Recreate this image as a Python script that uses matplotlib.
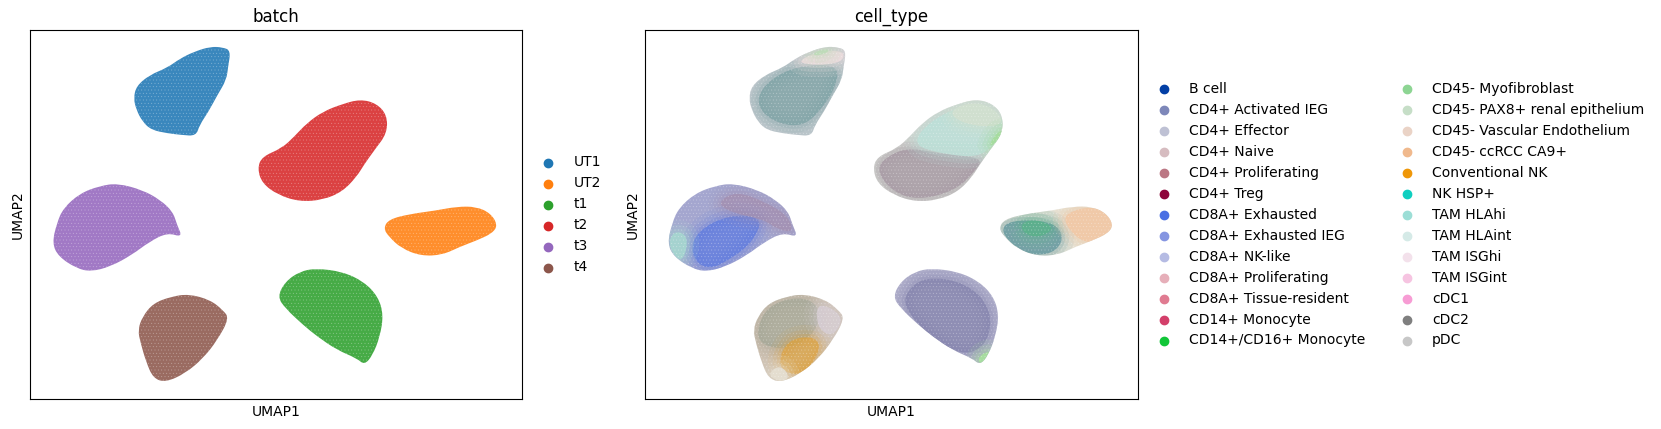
import matplotlib
matplotlib.use("Agg")
import matplotlib.pyplot as plt
from matplotlib.path import Path
from matplotlib.patches import PathPatch

batch_labels = ["UT1", "UT2", "t1", "t2", "t3", "t4"]
batch_colors = ["#1f77b4", "#ff7f0e", "#2ca02c", "#d62728", "#9467bd", "#8c564b"]

cell_types = ["B cell", "CD4+ Activated IEG", "CD4+ Effector", "CD4+ Naive", "CD4+ Proliferating",
              "CD4+ Treg", "CD8A+ Exhausted", "CD8A+ Exhausted IEG", "CD8A+ NK-like",
              "CD8A+ Proliferating", "CD8A+ Tissue-resident", "CD14+ Monocyte", "CD14+/CD16+ Monocyte",
              "CD45- Myofibroblast", "CD45- PAX8+ renal epithelium", "CD45- Vascular Endothelium",
              "CD45- ccRCC CA9+", "Conventional NK", "NK HSP+", "TAM HLAhi", "TAM HLAint", "TAM ISGhi",
              "TAM ISGint", "cDC1", "cDC2", "pDC"]
cell_colors = ["#023fa5", "#7d87b9", "#bec1d4", "#d6bcc0", "#bb7784", "#8e063b", "#4a6fe3", "#8595e1",
               "#b5bbe3", "#e6afb9", "#e07b91", "#d33f6a", "#11c638", "#8dd593", "#c6dec7", "#ead3c6",
               "#f0b98d", "#ef9708", "#0fcfc0", "#9cded6", "#d5eae7", "#f3e1eb", "#f6c4e1", "#f79cd4",
               "#7f7f7f", "#c7c7c7"]

# Cluster outlines (x, y in embedding units)
UT1 = [(290,903),(298,940),(335,973),(385,995),(420,1022),(460,1043),(505,1058),(540,1056),(562,1046),
       (555,998),(550,958),(525,913),(500,863),(475,823),(465,790),(425,793),(385,798),(340,808),(315,833),(298,868)]
T2 = [(637,693),(650,728),(705,753),(740,788),(775,828),(820,863),(875,886),(925,900),(970,888),(1000,853),
      (1000,798),(965,748),(935,703),(915,668),(875,623),(820,598),(755,593),(695,613),(650,648)]
T3 = [(62,468),(75,528),(93,573),(140,618),(195,640),(245,648),(315,628),(365,598),(400,563),(412,523),
      (427,486),(385,500),(335,473),(285,433),(225,398),(170,383),(130,393),(80,428)]
UT2 = [(990,513),(1005,540),(1065,556),(1135,566),(1195,578),(1250,578),(1290,558),(1310,523),(1295,498),
       (1250,476),(1205,458),(1155,433),(1095,430),(1040,453),(1005,488)]
T1 = [(693,308),(715,353),(755,383),(800,393),(875,383),(935,353),(975,308),(990,253),(980,188),(960,133),
      (937,103),(915,123),(860,148),(805,188),(765,223),(715,273)]
T4 = [(302,208),(315,248),(345,288),(395,308),(445,316),(505,298),(540,268),(558,243),(525,178),(485,123),
      (435,78),(380,51),(345,63),(325,113),(310,168)]
clusters = [UT1, UT2, T1, T2, T3, T4]

# cell_type colour regions: (outline, blended colour, opacity)
blue_core = [(313,908),(350,960),(425,1000),(540,1005),(535,940),(490,865),(442,820),(378,825),(325,860)]
blue_tip = [(415,1005),(480,1045),(562,1046),(545,1003)]
blue_green = [(465,1035),(497,1052),(520,1047),(487,1030)]
red_low = [(644,693),(686,735),(742,755),(835,735),(947,725),(920,680),(865,625),(762,597),(688,625)]
red_up = [(742,765),(807,845),(928,897),(998,855),(998,805),(947,725),(835,735)]
red_top = [(845,865),(928,897),(998,855),(993,815),(890,825)]
red_green = [(960,755),(979,795),(1003,810),(988,775)]
pur_core = [(125,435),(144,505),(237,555),(330,545),(302,475),(246,425),(172,385)]
pur_mauve = [(255,625),(340,590),(400,550),(415,500),(370,510),(330,540),(240,560),(200,590)]
pur_teal = [(64,460),(78,505),(116,495),(116,445),(97,410)]
org_dark = [(993,505),(1022,538),(1134,535),(1172,495),(1153,445),(1097,430),(1041,450)]
org_green = [(1050,530),(1097,540),(1148,515),(1106,485),(1060,495)]
org_peach = [(1162,545),(1218,575),(1274,573),(1307,545),(1310,515),(1274,475),(1218,470)]
grn_core = [(720,310),(780,370),(900,350),(970,270),(960,170),(900,130),(820,170),(740,250)]
grn_tip = [(930,125),(958,145),(972,135),(939,102)]
brn_up = [(310,200),(340,280),(430,310),(490,280),(480,200),(400,150),(330,160)]
brn_org = [(368,95),(396,180),(480,190),(490,140),(434,65)]
brn_tip = [(340,75),(378,105),(406,65),(378,50)]
brn_pale = [(480,295),(558,250),(525,185),(480,215)]

cell_base = ["#b9c2c8", "#e3e0d2", "#a8a7c6", "#cccfca", "#9a9cca", "#c9bbaa"]
cell_regions = [
    (blue_core, "#7fa3a6", 0.8), (blue_tip, "#e8dadb", 1.0), (blue_green, "#bedcb9", 0.9),
    (red_low, "#a89ca5", 0.85), (red_up, "#bde0d8", 0.9), (red_top, "#d4e0cf", 0.85), (red_green, "#a6dc9f", 1.0),
    (pur_core, "#627de0", 0.8), (pur_mauve, "#a38fb0", 0.7), (pur_teal, "#a6d8cf", 0.9),
    (org_dark, "#6f9ea3", 0.9), (org_green, "#58b488", 0.7), (org_peach, "#f0c9a8", 1.0),
    (grn_core, "#8484ad", 0.75), (grn_tip, "#a6dc9f", 1.0),
    (brn_up, "#a3a696", 0.7), (brn_org, "#dfa33e", 0.7), (brn_tip, "#e4ddcf", 1.0), (brn_pale, "#d7ced4", 0.85),
]


def smooth(points):
    n = len(points)
    mids = [((points[i][0] + points[(i + 1) % n][0]) / 2, (points[i][1] + points[(i + 1) % n][1]) / 2)
            for i in range(n)]
    verts, codes = [mids[-1]], [Path.MOVETO]
    for i in range(n):
        verts += [points[i], mids[i]]
        codes += [Path.CURVE3, Path.CURVE3]
    return Path(verts, codes)


def blob(ax, points, color, alpha=1.0, z=2, clip=None):
    path = smooth(points)
    layers = [PathPatch(path, facecolor=color, edgecolor="none", alpha=alpha, zorder=z)]
    if clip is not None:
        for lw, a in ((18, 0.12), (11, 0.18), (5, 0.25)):
            layers.append(PathPatch(path, facecolor="none", edgecolor=color, lw=lw, alpha=a * alpha, zorder=z))
    for patch in layers:
        ax.add_patch(patch)
        if clip is not None:
            patch.set_clip_path(clip, ax.transData)


def speckle(ax, points, z=5):
    ax.add_patch(PathPatch(smooth(points), facecolor="none", edgecolor="white", hatch=".....",
                           lw=0, alpha=0.3, zorder=z))


plt.rcParams["hatch.linewidth"] = 0.3

fig = plt.figure(figsize=(16.61, 4.29), dpi=100)
ax1 = fig.add_axes([30.0 / 1661, 29.7 / 429, 492.0 / 1661, 369 / 429])
ax2 = fig.add_axes([645.3 / 1661, 29.7 / 429, 492.3 / 1661, 369 / 429])

for ax, title in ((ax1, "batch"), (ax2, "cell_type")):
    ax.set_xlim(0, 1378)
    ax.set_ylim(0, 1107)
    ax.set_xticks([])
    ax.set_yticks([])
    ax.set_xlabel("UMAP1")
    ax.set_ylabel("UMAP2")
    ax.set_title(title)

all_clusters = Path.make_compound_path(*[smooth(c) for c in clusters])

for outline, color in zip(clusters, batch_colors):
    blob(ax1, outline, color, alpha=0.88)
    speckle(ax1, outline)
for outline, color in zip(clusters, cell_base):
    blob(ax2, outline, color, alpha=0.9)
for i, (outline, color, opacity) in enumerate(cell_regions):
    blob(ax2, outline, color, alpha=opacity, z=3 + i * 0.01, clip=all_clusters)
for outline in clusters:
    speckle(ax2, outline)

for label, color in zip(batch_labels, batch_colors):
    ax1.scatter([], [], c=color, label=label)
for label, color in zip(cell_types, cell_colors):
    ax2.scatter([], [], c=color, label=label)
ax1.legend(frameon=False, loc="center left", bbox_to_anchor=(1, 0.5), ncol=1)
ax2.legend(frameon=False, loc="center left", bbox_to_anchor=(1, 0.5), ncol=2)

fig.savefig("out.png", dpi=100)
